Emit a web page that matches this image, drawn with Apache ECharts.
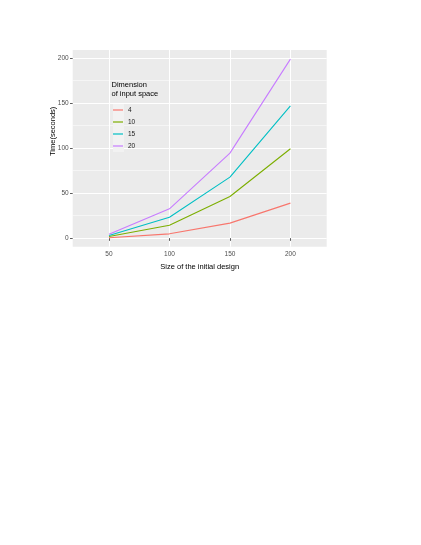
<!DOCTYPE html>
<html>
<head>
<meta charset="utf-8">
<script src="https://cdn.jsdelivr.net/npm/echarts@6/dist/echarts.min.js"></script>
<style>
  html, body { margin: 0; padding: 0; background: #fff; }
  #chart { width: 421px; height: 545px; }
</style>
</head>
<body>
<div id="chart"></div>
<script>
  // design sizes on the x axis
  const designSizes = [50, 100, 150, 200];
  const dimensions = ['4', '10', '15', '20'];
  // time in seconds, one list per input dimension
  const time4 = [0.4, 4.8, 16.7, 38.9];
  const time10 = [1.8, 14.4, 46.3, 99.3];
  const time15 = [3.0, 23.3, 67.8, 147.0];
  const time20 = [4.4, 32.6, 94.4, 198.9];
  const yMajor = [0, 50, 100, 150, 200];
  const yMinor = [25, 75, 125, 175];

  const colors = ['#F8766D', '#7CAE00', '#00BFC4', '#C77CFF'];
  const font = 'Liberation Sans, Arial, sans-serif';
  const allTimes = [time4, time10, time15, time20];

  let myChart = echarts.init(document.getElementById('chart'));

  myChart.setOption({
    animation: false,
    color: colors,
    textStyle: { fontFamily: font },
    title: {
      text: 'Dimension\nof input space',
      left: 111.5,
      top: 80,
      padding: 0,
      textStyle: { fontSize: 7.5, fontWeight: 'normal', color: '#000', lineHeight: 9.5, fontFamily: font }
    },
    legend: {
      orient: 'vertical',
      left: 113,
      top: 104,
      padding: 0,
      itemGap: 0,
      itemWidth: 10,
      itemHeight: 1.2,
      icon: 'rect',
      data: dimensions,
      textStyle: { fontSize: 6.5, color: '#1a1a1a', lineHeight: 12, fontFamily: font }
    },
    graphic: [{
      type: 'rect',
      z: 1,
      shape: { x: 113, y: 104, width: 11, height: 48 },
      style: { fill: '#F2F2F2' }
    }],
    grid: {
      left: 72.7,
      right: 94.3,
      top: 50,
      bottom: 298.3,
      show: true,
      backgroundColor: '#EBEBEB',
      borderWidth: 0
    },
    xAxis: {
      type: 'value',
      min: 20,
      max: 230,
      name: 'Size of the initial design',
      nameLocation: 'middle',
      nameGap: 16,
      nameMoveOverlap: false,
      nameTextStyle: { fontSize: 7.5, color: '#000' },
      axisLine: { show: false },
      axisTick: { show: true, length: 2.7, customValues: designSizes, lineStyle: { color: '#333', width: 0.8 } },
      axisLabel: { customValues: designSizes, fontSize: 6.5, color: '#4D4D4D', margin: 4 },
      splitLine: { show: true, lineStyle: { color: '#fff', width: 1 } }
    },
    yAxis: [{
      type: 'value',
      min: -9.5,
      max: 209,
      name: 'Time(seconds)',
      nameLocation: 'middle',
      nameGap: 16,
      nameMoveOverlap: false,
      nameTextStyle: { fontSize: 7.5, color: '#000', padding: [0, 0, 0, 34] },
      axisLine: { show: false },
      axisTick: { show: true, length: 2.7, customValues: yMajor, lineStyle: { color: '#333', width: 0.8 } },
      axisLabel: { customValues: yMajor, fontSize: 6.5, color: '#4D4D4D', margin: 4 },
      splitLine: { show: true, lineStyle: { color: '#fff', width: 1 } }
    }, {
      type: 'value',
      position: 'left',
      min: -9.5,
      max: 209,
      axisLine: { show: false },
      axisTick: { show: false, customValues: yMinor },
      axisLabel: { show: false, customValues: yMinor },
      splitLine: { show: true, lineStyle: { color: '#fff', width: 0.5 } }
    }],
    series: dimensions.map((d, i) => ({
      name: d,
      type: 'line',
      symbol: 'none',
      z: 3,
      lineStyle: { width: 1.1 },
      data: designSizes.map((x, j) => [x, allTimes[i][j]])
    }))
  });
</script>
</body>
</html>
